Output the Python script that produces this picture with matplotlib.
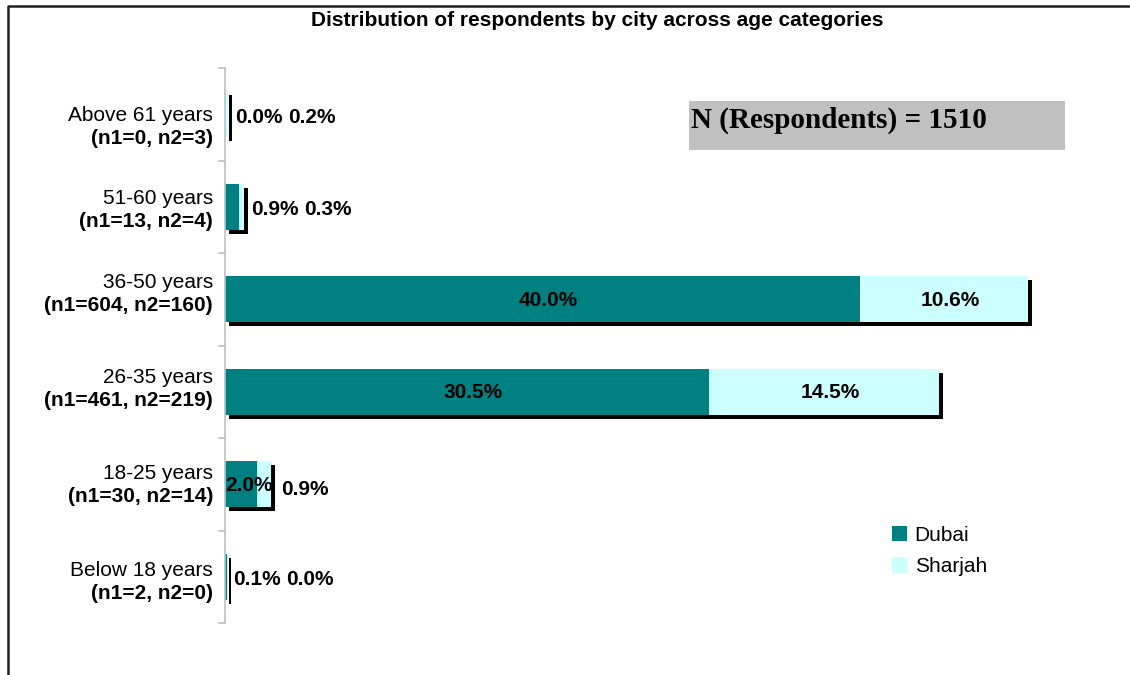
import matplotlib.pyplot as plt
import matplotlib.transforms as mtransforms
from matplotlib.lines import Line2D
from matplotlib.patches import Rectangle
import numpy as np

plt.rcParams['font.family'] = ['Liberation Sans', 'DejaVu Sans']

# age groups, bottom to top
ages = ['Below 18 years', '18-25 years', '26-35 years', '36-50 years', '51-60 years', 'Above 61 years']
counts = ['(n1=2, n2=0)', '(n1=30, n2=14)', '(n1=461, n2=219)', '(n1=604, n2=160)',
          '(n1=13, n2=4)', '(n1=0, n2=3)']
dubai = [0.1, 2.0, 30.5, 40.0, 0.9, 0.0]
sharjah = [0.0, 0.9, 14.5, 10.6, 0.3, 0.2]
n_total = 1510

teal = '#008080'
pale = '#CCFFFF'

fig = plt.figure(figsize=(11.3, 6.75), dpi=100)
ax = fig.add_axes([225 / 1130, 52 / 675, 873 / 1130, 555 / 675])

y = np.arange(len(ages))
dubai = np.array(dubai)
sharjah = np.array(sharjah)
total = dubai + sharjah
h = 0.5

# drop shadow behind each stacked bar (4px right, 4px down)
shadow = ax.barh(y, total, height=h, color='black', zorder=1)
shift = mtransforms.ScaledTranslation(4 / 100, -4 / 100, fig.dpi_scale_trans)
for p in shadow:
    p.set_transform(ax.transData + shift)

b1 = ax.barh(y, dubai, height=h, color=teal, zorder=2, label='Dubai')
b2 = ax.barh(y, sharjah, left=dubai, height=h, color=pale, zorder=2, label='Sharjah')

ax.set_xlim(0, 55)
ax.set_ylim(-0.5, len(ages) - 0.5)

# value labels
lab = dict(fontsize=15, fontweight='bold', va='center', color='black', zorder=5,
           textcoords='offset pixels')
for i in range(len(ages)):
    d_txt = f'{dubai[i]:.1f}%'
    s_txt = f'{sharjah[i]:.1f}%'
    if dubai[i] >= 10:
        ax.annotate(d_txt, (dubai[i] / 2, y[i]), xytext=(6, -1), ha='center', **lab)
        ax.annotate(s_txt, (dubai[i] + sharjah[i] / 2, y[i]), xytext=(6, -1), ha='center', **lab)
    elif total[i] >= 2:
        ax.annotate(d_txt, (total[i] / 2, y[i]), xytext=(1, -1), ha='center', **lab)
        ax.annotate(s_txt, (total[i], y[i]), xytext=(10, -5), ha='left', **lab)
    else:
        ax.annotate(d_txt, (total[i], y[i]), xytext=(7, -3), ha='left', **lab)
        ax.annotate(s_txt, (total[i], y[i]), xytext=(60, -3), ha='left', **lab)

# category labels: age on top line, counts in bold underneath
# (the two-line labels sit a little off the bar centres, by row)
label_shift = [-5.5, -1, 2.5, 5, -3, -13]
ax.set_yticks([])
for i in range(len(ages)):
    dy = label_shift[i]
    ax.annotate(ages[i], (0, y[i]), xytext=(-12, dy + 11.5), textcoords='offset pixels',
                ha='right', va='center', fontsize=15)
    ax.annotate(counts[i], (0, y[i]), xytext=(-12, dy - 11.5), textcoords='offset pixels',
                ha='right', va='center', fontsize=15, fontweight='bold')

# left axis line with ticks between categories
for s in ['top', 'right', 'bottom']:
    ax.spines[s].set_visible(False)
ax.spines['left'].set_color('#c0c0c0')
ax.spines['left'].set_linewidth(1.2)
ax.set_xticks([])
for b in np.arange(-0.5, len(ages), 1.0):
    ax.plot([-0.35, 0], [b, b], color='#c0c0c0', lw=1.2, clip_on=False, zorder=0)

ax.legend(handles=[b1, b2], loc='upper left', bbox_to_anchor=(873 / 1130, 1 - 507 / 675),
          bbox_transform=fig.transFigure, frameon=False, fontsize=15,
          handlelength=0.75, handleheight=0.75, handletextpad=0.35, labelspacing=0.6)

fig.text(597 / 1130, 1 - 20 / 675, 'Distribution of respondents by city across age categories',
         ha='center', va='center', fontsize=15, fontweight='bold')

# sample size box
fig.patches.append(Rectangle((689 / 1130, 1 - 150 / 675), 376 / 1130, 49 / 675,
                             transform=fig.transFigure, facecolor='#c0c0c0', edgecolor='none'))
fig.text(691 / 1130, 1 - 120 / 675, f'N (Respondents) = {n_total}', ha='left', va='center',
         fontsize=21, fontweight='bold', family='Liberation Serif')

# chart border (top and left edges)
fig.lines.append(Line2D([8 / 1130, 8 / 1130, 1.0], [0, 1 - 6 / 675, 1 - 6 / 675],
                        transform=fig.transFigure, color='#202020', lw=1.8))

fig.savefig('out.png', dpi=100)
